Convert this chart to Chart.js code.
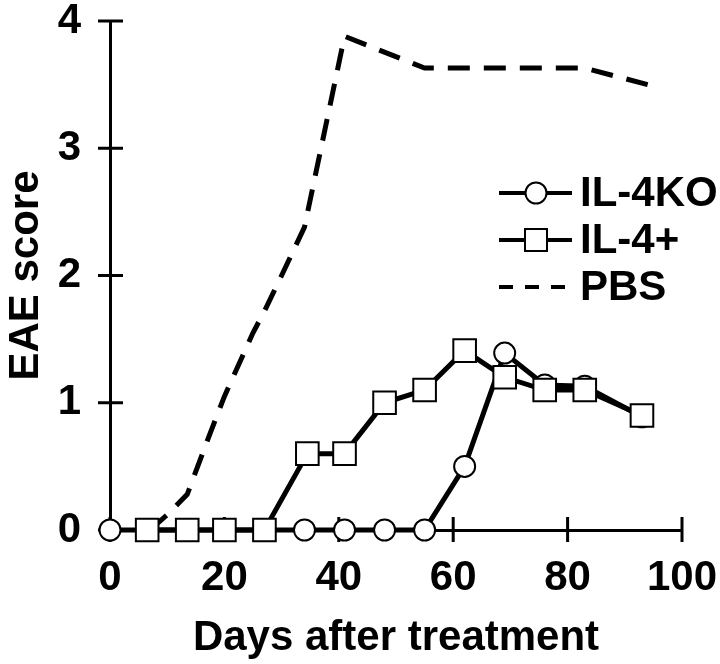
<!DOCTYPE html>
<html>
<head>
<meta charset="utf-8">
<script src="https://cdn.jsdelivr.net/npm/chart.js@4.4.1/dist/chart.umd.min.js"></script>
<style>
  html, body { margin: 0; padding: 0; background: #fff; }
  #wrap { width: 720px; height: 664px; }
</style>
</head>
<body>
<div id="wrap"><canvas id="myChart" width="720" height="664"></canvas></div>
<script>
// Datos
const diasKO = [0, 6.5, 13.5, 20, 27, 34, 41, 48, 55, 62, 69, 76, 83, 93];
const il4KO = [0, 0, 0, 0, 0, 0, 0, 0, 0, 0.5, 1.39, 1.14, 1.13, 0.89];

const diasPlus = [6.5, 13.5, 20, 27, 34.5, 41, 48, 55, 62, 69, 76, 83, 93];
const il4Plus = [0, 0, 0, 0, 0.6, 0.6, 1.0, 1.1, 1.41, 1.2, 1.1, 1.1, 0.9];

const diasPBS = [7, 10, 13.5, 17, 20, 25, 27, 30, 34, 41, 55, 83, 94];
const pbs = [0, 0.12, 0.28, 0.7, 1.05, 1.55, 1.72, 2.0, 2.38, 3.88, 3.63, 3.63, 3.5];

const xTicks = [0, 20, 40, 60, 80, 100];
const yTicks = [0, 1, 2, 3, 4];

const etiquetas = ['IL-4KO', 'IL-4+', 'PBS'];

function puntos(xs, ys) {
    return xs.map((x, i) => ({ x: x, y: ys[i] }));
}

const fuente = "'Liberation Sans', Arial, Helvetica, sans-serif";

// Marcas que cruzan los ejes
const marcasEjes = {
    id: 'marcasEjes',
    beforeDatasetsDraw(chart) {
        const ctx = chart.ctx;
        const xs = chart.scales.x, ys = chart.scales.y;
        const x0 = xs.getPixelForValue(0), y0 = ys.getPixelForValue(0);
        ctx.save();
        ctx.strokeStyle = '#000';
        ctx.lineWidth = 3;
        ctx.beginPath();
        yTicks.forEach(v => {
            const p = ys.getPixelForValue(v);
            ctx.moveTo(x0 - 12, p); ctx.lineTo(x0 + 13, p);
        });
        xTicks.forEach(v => {
            const p = xs.getPixelForValue(v);
            ctx.moveTo(p, y0 - 13); ctx.lineTo(p, y0 + 12);
        });
        ctx.stroke();
        ctx.restore();
    }
};

// Leyenda dentro del gráfico
const leyenda = {
    id: 'leyenda',
    afterDraw(chart) {
        const ctx = chart.ctx;
        const filas = [193, 240, 287];
        const x1 = 499, x2 = 572, xm = 536;
        ctx.save();
        ctx.strokeStyle = '#000';
        ctx.fillStyle = '#000';
        ctx.font = 'bold 42px ' + fuente;
        ctx.textBaseline = 'middle';
        filas.forEach((y, i) => {
            ctx.lineWidth = 4;
            if (i === 2) ctx.setLineDash([14, 12]);
            else ctx.setLineDash([]);
            ctx.beginPath();
            ctx.moveTo(x1, y); ctx.lineTo(i === 2 ? 566 : x2, y);
            ctx.stroke();
            ctx.setLineDash([]);
            ctx.lineWidth = 2;
            if (i === 0) {
                ctx.beginPath();
                ctx.arc(xm, y, 10.5, 0, Math.PI * 2);
                ctx.fillStyle = '#fff'; ctx.fill(); ctx.stroke();
            } else if (i === 1) {
                ctx.fillStyle = '#fff';
                ctx.fillRect(xm - 11, y - 11, 22, 22);
                ctx.strokeRect(xm - 11, y - 11, 22, 22);
            }
            ctx.fillStyle = '#000';
            ctx.fillText(etiquetas[i], 580, y + 1);
        });
        ctx.restore();
    }
};

const ctx = document.getElementById('myChart').getContext('2d');
const myChart = new Chart(ctx, {
    type: 'scatter',
    data: {
        datasets: [{
            label: etiquetas[1],
            data: puntos(diasPlus, il4Plus),
            showLine: true,
            borderColor: '#000',
            borderWidth: 5,
            pointStyle: 'rect',
            pointRadius: 16,
            pointBorderWidth: 2,
            pointBackgroundColor: '#fff',
            pointBorderColor: '#000',
            clip: false,
            order: 0
        }, {
            label: etiquetas[0],
            data: puntos(diasKO, il4KO),
            showLine: true,
            borderColor: '#000',
            borderWidth: 5,
            pointStyle: 'circle',
            pointRadius: 10.5,
            pointBorderWidth: 2,
            pointBackgroundColor: '#fff',
            pointBorderColor: '#000',
            clip: false,
            order: 1
        }, {
            label: etiquetas[2],
            data: puntos(diasPBS, pbs),
            showLine: true,
            borderColor: '#000',
            borderWidth: 5,
            borderDash: [22, 14],
            pointRadius: 0,
            clip: false,
            order: 2
        }]
    },
    options: {
        responsive: false,
        animation: false,
        layout: { padding: { top: 21, right: 38, left: 0, bottom: 0 } },
        scales: {
            x: {
                type: 'linear',
                min: 0,
                max: 100,
                afterFit: s => { s.height = 134; s.paddingLeft = 0; s.paddingRight = 0; },
                afterBuildTicks: s => { s.ticks = xTicks.map(v => ({ value: v })); },
                grid: { display: false, drawTicks: false },
                border: { display: true, color: '#000', width: 3 },
                ticks: {
                    color: '#000',
                    padding: 27,
                    font: { family: fuente, size: 42, weight: 'bold', lineHeight: 1 }
                },
                title: {
                    display: true,
                    text: 'Days after treatment',
                    color: '#000',
                    padding: { top: 0, bottom: 5 },
                    font: { family: fuente, size: 42, weight: 'bold', lineHeight: 1 }
                }
            },
            y: {
                type: 'linear',
                min: 0,
                max: 4,
                afterFit: s => { s.width = 110; s.paddingTop = 0; s.paddingBottom = 0; },
                afterBuildTicks: s => { s.ticks = yTicks.map(v => ({ value: v })); },
                grid: { display: false, drawTicks: false },
                border: { display: true, color: '#000', width: 3 },
                ticks: {
                    color: '#000',
                    padding: 29,
                    font: { family: fuente, size: 42, weight: 'bold', lineHeight: 1 }
                },
                title: {
                    display: true,
                    text: 'EAE score',
                    color: '#000',
                    padding: { top: 5, bottom: 0 },
                    font: { family: fuente, size: 42, weight: 'bold', lineHeight: 1 }
                }
            }
        },
        plugins: {
            legend: { display: false },
            tooltip: { enabled: false }
        }
    },
    plugins: [marcasEjes, leyenda]
});
</script>
</body>
</html>
